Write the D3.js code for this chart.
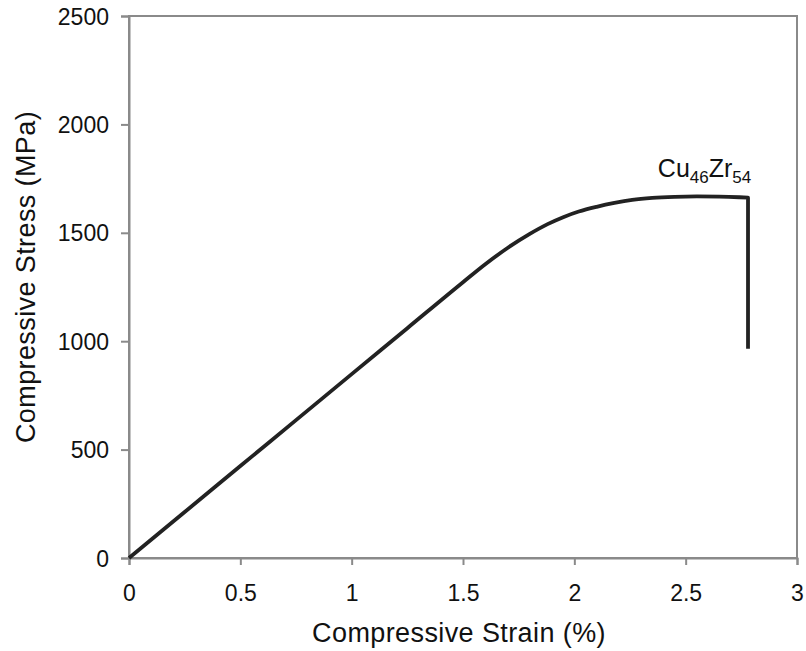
<html>
<head>
<script src="https://d3js.org/d3.v7.min.js"></script>
<style>
  body { margin: 0; background: #fff; }
  text { font-family: "Liberation Sans", Arial, sans-serif; fill: #111; }
</style>
</head>
<body>
<svg id="chart" width="806" height="651"></svg>
<script>
// strain (%) and stress (MPa)
var strain = [0, 0.25, 0.5, 0.75, 1.0, 1.25, 1.5, 1.6, 1.7, 1.8, 1.88, 1.95, 2.02, 2.1, 2.18, 2.26, 2.35, 2.45, 2.55, 2.65, 2.74, 2.78];
var stress = [0, 212, 424, 636, 848, 1060, 1272, 1355, 1430, 1495, 1540, 1572, 1598, 1620, 1638, 1652, 1661, 1666, 1668, 1667, 1664, 1662];
// final fracture drop
var dropStrain = 2.78, dropStress = 965;
var xTicks = [0, 0.5, 1, 1.5, 2, 2.5, 3];
var yTicks = [0, 500, 1000, 1500, 2000, 2500];

var margin = {top: 16, left: 129, right: 9, bottom: 93};
var width = 806 - margin.left - margin.right,
    height = 651 - margin.top - margin.bottom;

var svg = d3.select("#chart");
var g = svg.append("g")
  .attr("transform", "translate(" + margin.left + "," + margin.top + ")");

var x = d3.scaleLinear().domain([0, 3]).range([0, width]);
var y = d3.scaleLinear().domain([0, 2500]).range([height, 0]);

// frame
g.append("rect")
  .attr("width", width).attr("height", height)
  .attr("fill", "none").attr("stroke", "#8a8a8a").attr("stroke-width", 2);

var xAxis = g.append("g")
  .attr("transform", "translate(0," + height + ")")
  .call(d3.axisBottom(x).tickValues(xTicks).tickFormat(d3.format("")).tickSizeOuter(0).tickSize(7).tickPadding(20));
var yAxis = g.append("g")
  .call(d3.axisLeft(y).tickValues(yTicks).tickFormat(d3.format("")).tickSizeOuter(0).tickSize(8).tickPadding(12));

[xAxis, yAxis].forEach(function(a) {
  a.select(".domain").attr("stroke", "#8a8a8a").attr("stroke-width", 2);
  a.selectAll(".tick line").attr("stroke", "#8a8a8a").attr("stroke-width", 2);
  a.selectAll(".tick text").style("font-size", "23px").attr("fill", "#111");
});
yAxis.selectAll(".tick text").attr("dy", "0.35em");

// axis titles
svg.append("text")
  .attr("x", 459).attr("y", 642)
  .attr("text-anchor", "middle").style("font-size", "27px")
  .style("letter-spacing", "0.4px")
  .text("Compressive Strain (%)");
svg.append("text")
  .attr("transform", "translate(35,277) rotate(-90)")
  .attr("text-anchor", "middle").style("font-size", "27px")
  .style("letter-spacing", "0.4px")
  .text("Compressive Stress (MPa)");

// curve
var pts = strain.map(function(s, i) { return [s, stress[i]]; });
var line = d3.line()
  .x(function(d) { return x(d[0]); })
  .y(function(d) { return y(d[1]); })
  .curve(d3.curveMonotoneX);
g.append("path")
  .attr("d", line(pts) + "L" + x(dropStrain) + "," + y(dropStress))
  .attr("fill", "none")
  .attr("stroke", "#222")
  .attr("stroke-width", 3.8)
  .attr("stroke-linejoin", "round");

// label
var lab = g.append("text")
  .attr("x", x(2.375)).attr("y", y(1758))
  .style("font-size", "25px");
lab.append("tspan").text("Cu");
lab.append("tspan").text("46").style("font-size", "17px").attr("dy", 6);
lab.append("tspan").text("Zr").attr("dy", -6);
lab.append("tspan").text("54").style("font-size", "17px").attr("dy", 6);
</script>
</body>
</html>
